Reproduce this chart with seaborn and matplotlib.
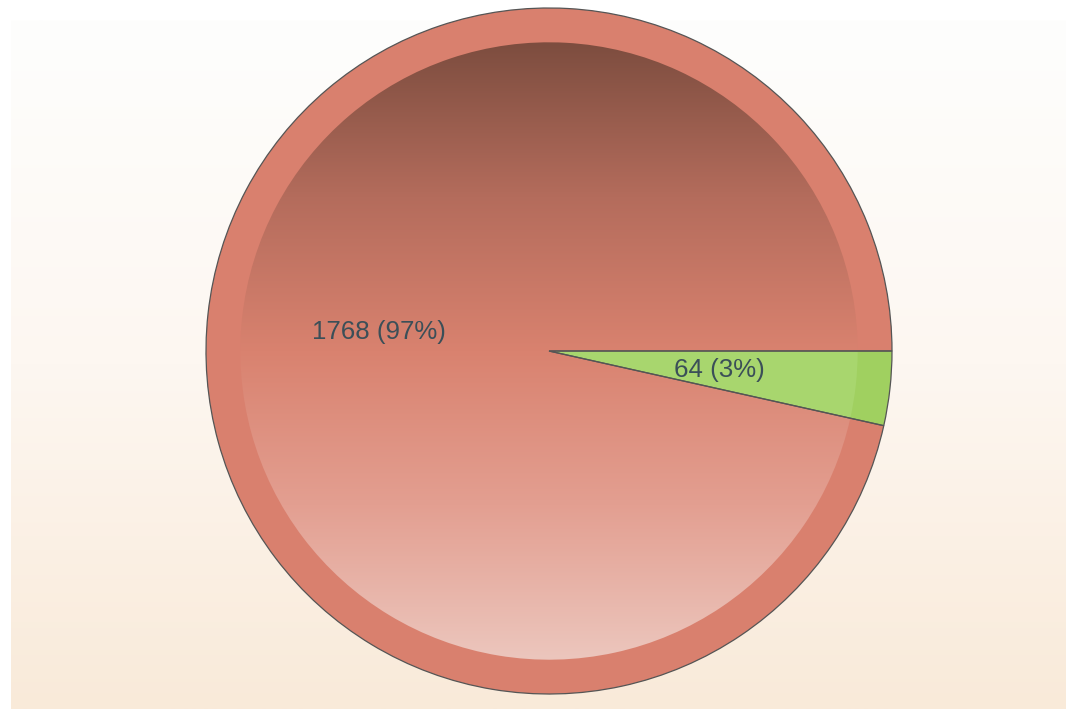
import numpy as np
import matplotlib
matplotlib.use('Agg')
import matplotlib.pyplot as plt
from matplotlib.patches import Wedge
import seaborn as sns

# %% data
labels = ['A', 'B']
values = [1768, 64]
slice_colors = ['#d9806e', '#a0d060']
inner_green = '#a8d66e'

sns.set_style('white')
plt.rcParams['font.family'] = ['Liberation Sans', 'DejaVu Sans']

total = sum(values)

def fmt(p):
    return '{:d} ({:.0f}%)'.format(int(round(p * total / 100.0)), p)

# %% figure in pixel coords
W, H = 1066, 709
fig = plt.figure(figsize=(W / 100, H / 100), dpi=100)
fig.patch.set_facecolor('white')
ax = fig.add_axes([0, 0, 1, 1])
ax.set_axis_off()

# background panel gradient (white -> beige)
bg_cmap = sns.blend_palette(['#fefefd', '#fdf7f1', '#f9ead9'], as_cmap=True)
grad = np.linspace(0, 1, 256).reshape(-1, 1)
ax.imshow(grad, extent=(11, W, 0, H - 20), cmap=bg_cmap, aspect='auto', zorder=0)

# pie
cx, cy, R = 549, H - 351, 343
wedges, texts, autotexts = ax.pie(values, colors=slice_colors, startangle=0,
                                  counterclock=True, center=(cx, cy), radius=R,
                                  autopct=fmt, pctdistance=0.5,
                                  wedgeprops={'linewidth': 0, 'zorder': 1},
                                  textprops={'fontsize': 18.6, 'color': '#3b4f58'})
for t in autotexts:
    t.set_zorder(5)

# inner shaded part of each slice
r_in = 0.9 * R
inner_cmap = sns.blend_palette(['#7d4d3f', '#b46c5c', '#d9826f', '#e39f91', '#ecc6bd'], as_cmap=True)
red_w = wedges[0]
clip_red = Wedge((cx, cy), r_in, red_w.theta1, red_w.theta2, transform=ax.transData)
img = ax.imshow(grad, extent=(cx - r_in, cx + r_in, cy - r_in, cy + r_in),
                cmap=inner_cmap, aspect='auto', zorder=2)
img.set_clip_path(clip_red)

green_w = wedges[1]
ax.add_patch(Wedge((cx, cy), r_in, green_w.theta1, green_w.theta2,
                   facecolor=inner_green, edgecolor='none', zorder=2))

# slice outlines on top
for w in wedges:
    ax.add_patch(Wedge(w.center, w.r, w.theta1, w.theta2, fill=False,
                       edgecolor='#555555', linewidth=0.9, zorder=3))

ax.set_xlim(0, W)
ax.set_ylim(0, H)
ax.set_aspect('equal')

plt.savefig('out.png', dpi=100, facecolor='white')
